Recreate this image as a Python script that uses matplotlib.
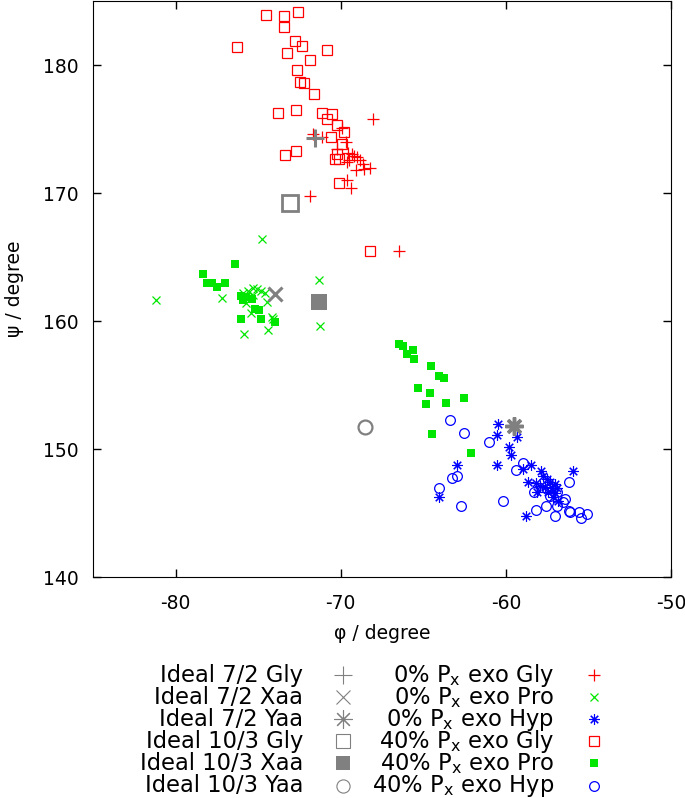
import numpy as np
import matplotlib
matplotlib.use("Agg")
import matplotlib.pyplot as plt

plt.rcParams['mathtext.default'] = 'regular'
plt.rcParams['axes.unicode_minus'] = False

# 0% Px exo, Gly
gly0_phi = [-68.06, -71.66, -71.11, -69.94, -69.68, -70.20, -69.54, -69.34, -69.19, -68.99, -69.48,
            -68.83, -69.64, -68.63, -69.07, -68.59, -68.22, -69.64, -69.37, -71.86, -66.45]
gly0_psi = [175.79, 174.63, 174.36, 175.09, 173.97, 173.43, 173.12, 173.02, 172.86, 172.81, 172.60,
            172.60, 172.42, 172.24, 171.82, 171.90, 171.98, 171.05, 170.42, 169.75, 165.44]
# 0% Px exo, Pro
pro0_phi = [-74.74, -81.18, -77.21, -71.31, -71.17, -71.25, -75.90, -75.59, -75.33, -75.09, -74.84,
            -74.58, -74.48, -74.18, -74.08, -74.42, -75.85, -75.45, -75.73, -75.29]
pro0_psi = [166.38, 161.65, 161.79, 163.21, 161.34, 159.58, 162.17, 162.38, 162.56, 162.49, 162.38,
            162.22, 161.52, 160.35, 160.15, 159.32, 159.01, 160.62, 161.40, 162.04]
# 0% Px exo, Hyp
hyp0_phi = [-60.45, -60.55, -59.30, -59.78, -59.70, -62.93, -60.51, -58.49, -58.98, -55.91, -57.89,
            -64.02, -58.77, -57.73, -57.53, -58.64, -58.17, -57.32, -57.02, -57.93, -57.62, -57.22,
            -56.88, -57.42, -57.02, -57.16, -56.82, -58.13]
hyp0_psi = [151.98, 151.09, 150.97, 150.19, 149.51, 148.74, 148.74, 148.74, 148.42, 148.29, 148.29,
            146.22, 144.79, 147.90, 147.65, 147.39, 147.34, 147.39, 147.26, 147.13, 147.00, 146.92,
            146.92, 146.66, 146.56, 146.22, 145.96, 146.61]

# 40% Px exo, Gly
gly40_phi = [-74.52, -73.41, -72.58, -73.41, -76.30, -72.78, -72.36, -73.23, -70.81, -71.86, -72.64,
             -72.46, -72.24, -71.60, -73.78, -72.72, -71.11, -70.51, -70.81, -70.22, -69.80, -70.58,
             -69.94, -73.37, -72.70, -70.34, -70.08, -70.08, -68.20, -70.21]
gly40_psi = [183.89, 183.86, 184.12, 183.00, 181.40, 181.91, 181.50, 180.93, 181.21, 180.41, 179.63,
             178.64, 178.56, 177.71, 176.26, 176.52, 176.26, 176.18, 175.76, 175.33, 174.73, 174.36,
             173.79, 172.99, 173.25, 172.63, 172.65, 170.78, 165.44, 173.07]
# 40% Px exo, Pro
pro40_phi = [-76.38, -78.32, -78.11, -77.81, -77.47, -77.02, -76.06, -75.73, -75.39, -75.90, -75.19,
             -74.93, -76.04, -74.84, -73.98, -66.45, -66.20, -65.96, -65.64, -65.56, -64.55, -64.02,
             -63.74, -65.30, -64.59, -62.53, -64.83, -63.62, -64.49, -62.12]
pro40_psi = [164.46, 163.68, 162.95, 163.00, 162.69, 163.00, 161.96, 161.86, 161.71, 161.65, 160.93,
             160.88, 160.18, 160.15, 159.89, 158.23, 158.02, 157.45, 157.71, 157.04, 156.46, 155.74,
             155.53, 154.78, 154.39, 154.00, 153.48, 153.56, 151.15, 149.72]
# 40% Px exo, Hyp
hyp40_phi = [-63.38, -62.53, -61.00, -58.98, -59.38, -63.28, -62.93, -64.02, -62.73, -60.19, -58.27,
             -56.15, -57.32, -56.41, -56.51, -58.19, -57.56, -56.88, -57.02, -56.17, -56.11, -55.55,
             -55.07, -55.44, -57.53, -56.92]
hyp40_psi = [152.24, 151.23, 150.55, 148.89, 148.35, 147.72, 147.90, 146.92, 145.57, 145.91, 146.66,
             147.44, 146.35, 146.09, 145.83, 145.26, 145.52, 145.52, 144.74, 145.18, 145.10, 145.05,
             144.92, 144.59, 146.87, 146.61]

# ideal helices: Gly, Xaa, Yaa
ideal72_phi = [-71.55, -73.98, -59.50]
ideal72_psi = [174.3, 162.12, 151.80]
ideal103_phi = [-73.07, -71.33, -68.53]
ideal103_psi = [169.2, 161.47, 151.69]

ideal_labels = ['Ideal 7/2 Gly', 'Ideal 7/2 Xaa', 'Ideal 7/2 Yaa',
                'Ideal 10/3 Gly', 'Ideal 10/3 Xaa', 'Ideal 10/3 Yaa']
sim_labels = ['0% P$_{x}$ exo Gly', '0% P$_{x}$ exo Pro', '0% P$_{x}$ exo Hyp',
              '40% P$_{x}$ exo Gly', '40% P$_{x}$ exo Pro', '40% P$_{x}$ exo Hyp']

red = '#ff0000'
green = '#00e600'
blue = '#0000ff'
gray = '#808080'
ast = (8, 2, 0)

fig = plt.figure(figsize=(6.85, 7.98), dpi=100)
ax = fig.add_axes([93/685, 1 - 577/798, 578/685, 576/798])

sim_styles = [
    (gly0_phi, gly0_psi, dict(marker='+', ms=8, mew=0.9, color=red)),
    (pro0_phi, pro0_psi, dict(marker='x', ms=6, mew=0.9, color=green)),
    (hyp0_phi, hyp0_psi, dict(marker=ast, ms=7.5, mew=0.8, color=blue)),
    (gly40_phi, gly40_psi, dict(marker='s', ms=6.5, mew=0.9, color=red, mfc='none')),
    (pro40_phi, pro40_psi, dict(marker='s', ms=6, mew=0, color=green)),
    (hyp40_phi, hyp40_psi, dict(marker='o', ms=7, mew=0.9, color=blue, mfc='none')),
]
ideal_styles = [
    dict(marker='+', ms=13, mew=2.2, color=gray),
    dict(marker='x', ms=10, mew=2.2, color=gray),
    dict(marker=ast, ms=13, mew=2.5, color=gray),
    dict(marker='s', ms=11, mew=2, color=gray, mfc='none'),
    dict(marker='s', ms=11, mew=0, color=gray),
    dict(marker='o', ms=10, mew=1.6, color=gray, mfc='none'),
]

for x, y, st in sim_styles:
    ax.plot(x, y, ls='none', **st)
for i, st in enumerate(ideal_styles):
    if i < 3:
        ax.plot(ideal72_phi[i], ideal72_psi[i], ls='none', **st)
    else:
        ax.plot(ideal103_phi[i - 3], ideal103_psi[i - 3], ls='none', **st)

ax.set_xlim(-85, -50)
ax.set_ylim(140, 185)
ax.set_xticks([-80, -70, -60, -50])
ax.set_yticks([140, 150, 160, 170, 180])
ax.tick_params(direction='in', length=6, width=1, top=True, right=True,
               labelsize=13.5, pad=10)
ax.tick_params(axis='x', pad=12)
ax.set_xlabel('φ / degree', fontsize=13.5, labelpad=8)
ax.set_ylabel('ψ / degree', fontsize=13.5, labelpad=14)

# key below the plot, gnuplot style
key = fig.add_axes([0, 0, 1, 1])
key.set_xlim(0, 685)
key.set_ylim(798, 0)
key.axis('off')
rows = [675, 697.1, 719.2, 741.3, 763.4, 785.5]
small_ideal = [
    dict(marker='+', ms=13, mew=0.8, color=gray),
    dict(marker='x', ms=10, mew=0.8, color=gray),
    dict(marker=ast, ms=13, mew=0.8, color=gray),
    dict(marker='s', ms=10.5, mew=0.8, color=gray, mfc='none'),
    dict(marker='s', ms=10.5, mew=0, color=gray),
    dict(marker='o', ms=9.5, mew=0.8, color=gray, mfc='none'),
]
for i, yy in enumerate(rows):
    key.text(303, yy + 6.7, ideal_labels[i], ha='right', va='baseline', fontsize=16.3)
    key.plot(343, yy, ls='none', **small_ideal[i])
    key.text(554, yy + 6.7, sim_labels[i], ha='right', va='baseline', fontsize=16.3)
    key.plot(594.5, yy, ls='none', **sim_styles[i][2])

fig.savefig('out.png', dpi=100)
